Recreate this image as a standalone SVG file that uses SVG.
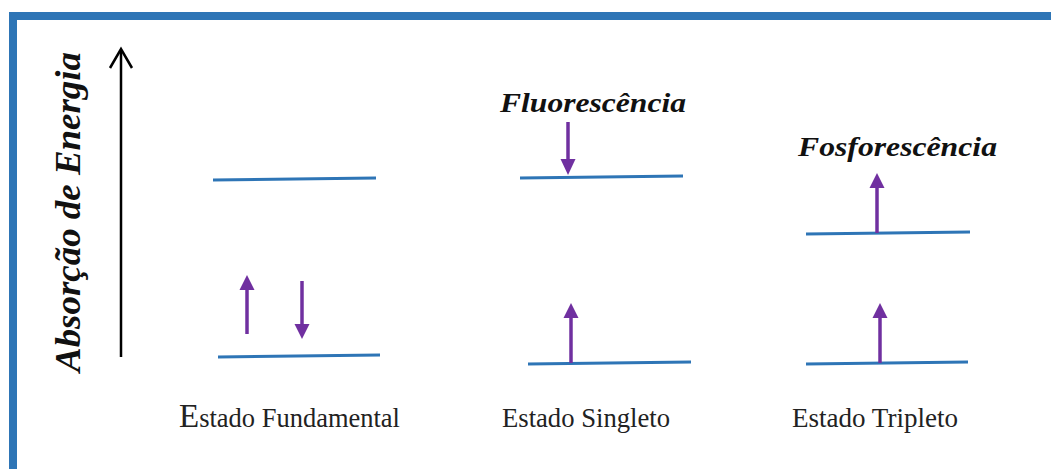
<svg xmlns="http://www.w3.org/2000/svg" width="1051" height="469" viewBox="0 0 1051 469">
  <style>
    .frame { fill: none; stroke: #2E75B6; stroke-width: 8; }
    .level { stroke: #2E75B6; stroke-width: 3; stroke-linecap: butt; }
    .spin { stroke: #7030A0; stroke-width: 3.5; }
    .head { fill: #7030A0; }
    .axis { stroke: #000; stroke-width: 2.5; fill: none; }
    .title { font-family: "Liberation Serif", "Times New Roman", serif; font-weight: bold; font-style: italic; fill: #111; }
    .label { font-family: "Liberation Serif", "Times New Roman", serif; font-size: 26.5px; fill: #222; }
  </style>

  <rect width="1051" height="469" fill="#fff"/>
  <!-- outer frame: left and top edges -->
  <path class="frame" d="M13,469 V16 H1051"/>

  <!-- energy axis -->
  <g id="energy-axis">
    <line class="axis" x1="121" y1="357" x2="121" y2="50"/>
    <polyline class="axis" points="110,68 121,49 132,68"/>
    <text class="title" x="0" y="0" font-size="35" text-anchor="middle" textLength="320" lengthAdjust="spacingAndGlyphs" transform="translate(80,212) rotate(-90)">Absorção de Energia</text>
  </g>

  <!-- ground state -->
  <g id="estado-fundamental">
    <line class="level" x1="213" y1="180" x2="376" y2="178"/>
    <line class="level" x1="218" y1="357" x2="380" y2="355"/>
    <line class="spin" x1="247" y1="334" x2="247" y2="288"/>
    <polygon class="head" points="247,275 254.5,290 239.5,290"/>
    <line class="spin" x1="302" y1="281" x2="302" y2="326"/>
    <polygon class="head" points="302,339 309.5,324 294.5,324"/>
    <text class="label" x="179" y="427" textLength="221" lengthAdjust="spacingAndGlyphs"><tspan font-size="33">E</tspan>stado Fundamental</text>
  </g>

  <!-- singlet state -->
  <g id="estado-singleto">
    <line class="level" x1="520" y1="178" x2="683" y2="176"/>
    <line class="level" x1="528" y1="364" x2="691" y2="362"/>
    <line class="spin" x1="568" y1="122" x2="568" y2="162"/>
    <polygon class="head" points="568,175 575.5,159 560.5,159"/>
    <line class="spin" x1="571" y1="363" x2="571" y2="316"/>
    <polygon class="head" points="571,303 578.5,318 563.5,318"/>
    <text class="title" x="500" y="112" font-size="28" textLength="186" lengthAdjust="spacingAndGlyphs">Fluorescência</text>
    <text class="label" x="502" y="427" textLength="168" lengthAdjust="spacingAndGlyphs">Estado Singleto</text>
  </g>

  <!-- triplet state -->
  <g id="estado-tripleto">
    <line class="level" x1="806" y1="234" x2="970" y2="232"/>
    <line class="level" x1="806" y1="364" x2="968" y2="362"/>
    <line class="spin" x1="877" y1="233" x2="877" y2="186"/>
    <polygon class="head" points="877,173 884.5,188 869.5,188"/>
    <line class="spin" x1="880" y1="363" x2="880" y2="316"/>
    <polygon class="head" points="880,303 887.5,318 872.5,318"/>
    <text class="title" x="798" y="156" font-size="28" textLength="199" lengthAdjust="spacingAndGlyphs">Fosforescência</text>
    <text class="label" x="792" y="427" textLength="166" lengthAdjust="spacingAndGlyphs">Estado Tripleto</text>
  </g>
</svg>
